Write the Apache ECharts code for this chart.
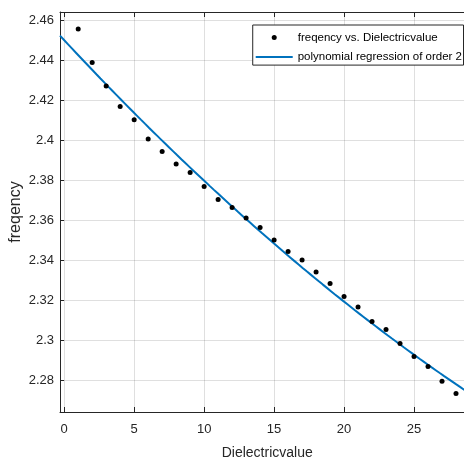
<!DOCTYPE html>
<html>
<head>
<meta charset="utf-8">
<script src="https://cdn.jsdelivr.net/npm/echarts@6/dist/echarts.min.js"></script>
<style>
  html, body { margin: 0; padding: 0; background: #fff; }
  #chart { width: 464px; height: 457px; }
</style>
</head>
<body>
<div id="chart"></div>
<script>
// Measured resonance frequency against dielectric value
const dielectricValues = [1, 2, 3, 4, 5, 6, 7, 8, 9, 10, 11, 12, 13, 14,
  15, 16, 17, 18, 19, 20, 21, 22, 23, 24, 25, 26, 27, 28];
const frequencies = [2.4555, 2.4387, 2.4270, 2.4168, 2.4101, 2.4005, 2.3943,
  2.3880, 2.3838, 2.3768, 2.3702, 2.3663, 2.3610, 2.3562, 2.3500, 2.3442,
  2.3400, 2.3340, 2.3283, 2.3217, 2.3165, 2.3093, 2.3052, 2.2982, 2.2917,
  2.2867, 2.2794, 2.2732];
const xTicks = [0, 5, 10, 15, 20, 25];
const yTicks = [2.28, 2.30, 2.32, 2.34, 2.36, 2.38, 2.40, 2.42, 2.44, 2.46];
const xRange = [-0.3, 28.6];
const yRange = [2.264, 2.464];

// Least-squares fit of a second order polynomial y = c0 + c1 x + c2 x^2
function polyfit2(xs, ys) {
  const S = [0, 0, 0, 0, 0];
  const T = [0, 0, 0];
  xs.forEach((x, i) => {
    let p = 1;
    for (let k = 0; k < 5; k++) { S[k] += p; if (k < 3) T[k] += p * ys[i]; p *= x; }
  });
  const A = [[S[0], S[1], S[2], T[0]], [S[1], S[2], S[3], T[1]], [S[2], S[3], S[4], T[2]]];
  for (let c = 0; c < 3; c++) {
    for (let r = c + 1; r < 3; r++) {
      const f = A[r][c] / A[c][c];
      for (let k = c; k < 4; k++) A[r][k] -= f * A[c][k];
    }
  }
  const coef = [0, 0, 0];
  for (let r = 2; r >= 0; r--) {
    let s = A[r][3];
    for (let k = r + 1; k < 3; k++) s -= A[r][k] * coef[k];
    coef[r] = s / A[r][r];
  }
  return coef;
}
const coef = polyfit2(dielectricValues, frequencies);
const fitCurve = [];
for (let i = 0; i <= 100; i++) {
  const x = xRange[0] + (xRange[1] - xRange[0]) * i / 100;
  fitCurve.push([x, coef[0] + coef[1] * x + coef[2] * x * x]);
}

const axisColor = '#262626';
const gridColor = 'rgba(38,38,38,0.15)';
const font = "'Liberation Sans', Arial, sans-serif";
const fmt = v => String(+(+v).toFixed(2));

const chart = echarts.init(document.getElementById('chart'), null, { renderer: 'canvas' });
chart.setOption({
  animation: false,
  backgroundColor: '#fff',
  grid: { left: 60, top: 12, width: 404.4, height: 400, containLabel: false, outerBoundsMode: 'none' },
  legend: {
    orient: 'vertical',
    right: 0.5,
    top: 25,
    padding: [5.5, 1.5, 1, 3],
    itemWidth: 37,
    itemHeight: 14,
    itemGap: 5.6,
    backgroundColor: '#fff',
    borderColor: axisColor,
    borderWidth: 1,
    borderRadius: 0,
    textStyle: { fontFamily: font, fontSize: 11.5, color: '#000', lineHeight: 14 },
    data: [
      { name: 'freqency vs. Dielectricvalue',
        icon: 'path://M0 0M37 14M16 7a2.5 2.5 0 1 0 5 0a2.5 2.5 0 1 0 -5 0z' },
      { name: 'polynomial regression of order 2',
        icon: 'path://M0 0M37 14M0 6h37v2h-37z' }
    ]
  },
  xAxis: [{
    type: 'value',
    min: xRange[0], max: xRange[1],
    name: 'Dielectricvalue',
    nameLocation: 'middle',
    nameGap: 34,
    nameMoveOverlap: false,
    nameTextStyle: { fontFamily: font, fontSize: 14, color: axisColor, padding: [0, 0, 0, 10] },
    axisLine: { show: true, onZero: false, lineStyle: { color: axisColor, width: 1 } },
    axisTick: { show: true, inside: true, length: 5, customValues: xTicks, lineStyle: { color: axisColor } },
    axisLabel: { customValues: xTicks, margin: 11, fontFamily: font, fontSize: 13, color: axisColor },
    splitLine: { show: true, lineStyle: { color: gridColor, width: 1 } }
  }, {
    type: 'value', position: 'top',
    min: xRange[0], max: xRange[1],
    axisLine: { show: true, onZero: false, lineStyle: { color: axisColor, width: 1 } },
    axisTick: { show: true, inside: true, length: 5, customValues: xTicks, lineStyle: { color: axisColor } },
    axisLabel: { show: false },
    splitLine: { show: false }
  }],
  yAxis: [{
    type: 'value',
    min: yRange[0], max: yRange[1],
    name: 'freqency',
    nameLocation: 'middle',
    nameGap: 36,
    nameMoveOverlap: false,
    nameTextStyle: { fontFamily: font, fontSize: 16, color: axisColor },
    axisLine: { show: true, onZero: false, lineStyle: { color: axisColor, width: 1 } },
    axisTick: { show: true, inside: true, length: 4, customValues: yTicks, lineStyle: { color: axisColor } },
    axisLabel: { customValues: yTicks, margin: 6, fontFamily: font, fontSize: 13, color: axisColor, formatter: fmt },
    splitLine: { show: true, lineStyle: { color: gridColor, width: 1 } }
  }, {
    type: 'value', position: 'right',
    min: yRange[0], max: yRange[1],
    axisLine: { show: true, onZero: false, lineStyle: { color: axisColor, width: 1 } },
    axisTick: { show: false },
    axisLabel: { show: false },
    splitLine: { show: false }
  }],
  series: [{
    name: 'freqency vs. Dielectricvalue',
    type: 'scatter',
    symbol: 'circle',
    symbolSize: 5,
    itemStyle: { color: '#000', opacity: 1 },
    data: dielectricValues.map((x, i) => [x, frequencies[i]]),
    z: 3
  }, {
    name: 'polynomial regression of order 2',
    type: 'line',
    showSymbol: false,
    symbol: 'none',
    lineStyle: { color: '#0072BD', width: 2 },
    itemStyle: { color: '#0072BD' },
    data: fitCurve,
    z: 2
  }]
});
</script>
</body>
</html>
